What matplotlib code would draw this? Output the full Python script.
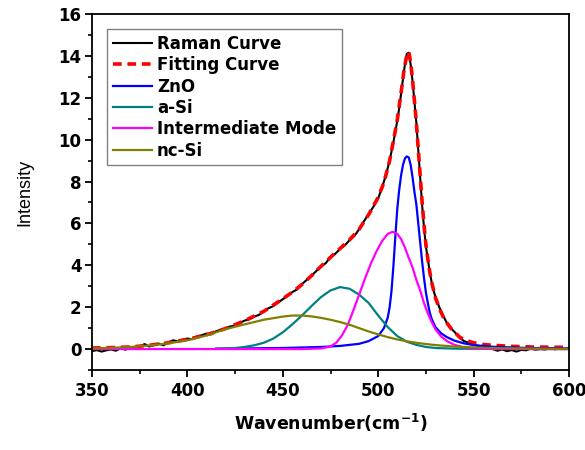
import matplotlib
matplotlib.use("Agg")
import matplotlib.pyplot as plt
from matplotlib.ticker import MultipleLocator

raman_x = [350, 352.5, 355, 357.5, 360, 362.5, 365, 367.5, 370, 372.5,
           375, 377.5, 380, 382.5, 385, 387.5, 390, 392.5, 395, 397.5,
           400, 402.5, 405, 407.5, 410, 412.5, 415, 417.5, 420, 422.5,
           425, 427.5, 430, 432.5, 435, 437.5, 440, 442.5, 445, 447.5,
           450, 452.5, 455, 457.5, 460, 462.5, 465, 467.5, 470, 472.5,
           475, 477.5, 480, 482.5, 485, 487.5, 490, 492.5, 495, 497.5,
           500, 502, 504, 506, 508, 510, 511, 512, 513, 514,
           515, 516, 517, 518, 519, 520, 521, 522, 523, 524,
           525, 526, 527, 528, 529, 530, 532, 534, 536, 538,
           540, 542.5, 545, 547.5, 550, 552.5, 555, 557.5, 560, 562.5,
           565, 567.5, 570, 572.5, 575, 577.5, 580, 582.5, 585, 587.5,
           590, 592.5, 595, 597.5, 600]
raman_y = [-0.10, -0.05, -0.12, -0.06, -0.02, -0.08, 0.04, -0.03, 0.06, 0.02,
           0.10, 0.24, 0.12, 0.20, 0.26, 0.18, 0.32, 0.42, 0.36, 0.45,
           0.50, 0.47, 0.60, 0.66, 0.74, 0.70, 0.85, 0.92, 0.98, 1.08,
           1.12, 1.25, 1.36, 1.42, 1.55, 1.63, 1.80, 1.95, 2.05, 2.22,
           2.38, 2.55, 2.72, 2.85, 3.10, 3.30, 3.50, 3.72, 3.95, 4.10,
           4.40, 4.55, 4.78, 4.95, 5.20, 5.40, 5.72, 6.10, 6.45, 6.80,
           7.20, 7.70, 8.30, 9.00, 9.90, 10.90, 11.50, 12.20, 12.90, 13.60,
           14.10, 14.15, 13.60, 12.80, 11.80, 10.80, 9.50, 8.20, 6.90, 5.80,
           4.90, 4.30, 3.70, 3.20, 2.80, 2.50, 2.00, 1.60, 1.25, 1.00,
           0.82, 0.55, 0.38, 0.30, 0.20, 0.15, 0.12, 0.05, 0.00, -0.08,
           -0.02, -0.10, -0.05, -0.12, -0.04, -0.06, 0.02, -0.03, 0.00, -0.02,
           0.04, -0.01, 0.02, 0.00, 0.03]

# total fit
fit_x = [350, 360, 370, 380, 390, 400, 410, 420, 430, 440,
         450, 455, 460, 465, 470, 475, 480, 485, 490, 495,
         500, 503, 506, 508, 510, 512, 513.5, 515, 516, 517,
         518, 519, 520, 521, 522, 523, 524, 525, 526, 527,
         528, 530, 532, 534, 536, 538, 540, 543, 546, 550,
         555, 560, 570, 580, 590, 600]
fit_y = [0.05, 0.07, 0.10, 0.18, 0.30, 0.46, 0.68, 0.98, 1.35, 1.80,
         2.40, 2.72, 3.08, 3.50, 3.95, 4.38, 4.80, 5.22, 5.72, 6.42,
         7.25, 7.95, 9.00, 9.95, 10.95, 12.25, 13.30, 14.05, 14.20, 13.70,
         12.85, 11.85, 10.80, 9.55, 8.30, 7.05, 5.95, 5.00, 4.30, 3.70,
         3.20, 2.45, 1.95, 1.55, 1.25, 1.00, 0.80, 0.55, 0.42, 0.30,
         0.22, 0.18, 0.13, 0.10, 0.09, 0.08]

# fitted components
zno_x = [415, 430, 450, 470, 480, 490, 495, 500, 503, 505,
         506, 507, 508, 509, 510, 511, 512, 513, 514, 515,
         516, 517, 518, 519, 520, 521, 522, 523, 524, 525,
         526, 527, 528, 530, 533, 536, 540, 545, 550, 560,
         575, 600]
zno_y = [0.02, 0.03, 0.05, 0.10, 0.15, 0.25, 0.38, 0.62, 1.00, 1.50,
         2.00, 2.80, 4.00, 5.40, 6.70, 7.60, 8.30, 8.80, 9.10, 9.20,
         9.15, 8.80, 8.20, 7.50, 6.90, 6.00, 5.10, 4.20, 3.40, 2.70,
         2.20, 1.75, 1.45, 1.05, 0.75, 0.57, 0.40, 0.27, 0.19, 0.11,
         0.06, 0.03]

asi_x = [415, 420, 425, 430, 435, 440, 445, 450, 455, 460,
         465, 470, 475, 480, 485, 490, 495, 500, 505, 510,
         515, 520, 525, 530, 540, 550, 600]
asi_y = [0.01, 0.03, 0.05, 0.10, 0.18, 0.30, 0.50, 0.80, 1.18, 1.60,
         2.05, 2.48, 2.80, 2.96, 2.88, 2.60, 2.20, 1.60, 1.05, 0.62,
         0.35, 0.20, 0.10, 0.05, 0.02, 0.01, 0.00]

im_x = [350, 400, 460, 470, 475, 478, 481, 484, 487, 490,
        493, 496, 499, 502, 505, 507.5, 510, 512, 514, 516,
        518, 520, 522, 524, 526, 528, 530, 533, 536, 540,
        545, 550, 560, 600]
im_y = [0.00, 0.00, 0.00, 0.03, 0.12, 0.30, 0.65, 1.15, 1.85, 2.60,
        3.35, 4.05, 4.65, 5.15, 5.50, 5.60, 5.50, 5.25, 4.85, 4.35,
        3.90, 3.30, 2.80, 2.20, 1.70, 1.30, 0.95, 0.60, 0.38, 0.20,
        0.08, 0.03, 0.00, 0.00]

nc_x = [350, 360, 370, 380, 390, 400, 410, 420, 430, 440,
        450, 455, 460, 465, 470, 475, 480, 485, 490, 495,
        500, 505, 510, 515, 520, 525, 530, 540, 550, 560,
        575, 600]
nc_y = [0.03, 0.06, 0.10, 0.17, 0.27, 0.42, 0.65, 0.95, 1.18, 1.40,
        1.55, 1.60, 1.60, 1.56, 1.49, 1.40, 1.29, 1.16, 1.00, 0.84,
        0.70, 0.57, 0.46, 0.37, 0.30, 0.24, 0.19, 0.12, 0.08, 0.05,
        0.03, 0.01]

x_ticks = [350, 400, 450, 500, 550, 600]
y_ticks = [0, 2, 4, 6, 8, 10, 12, 14, 16]

plt.rcParams["font.family"] = ["DejaVu Sans"]
plt.rcParams["mathtext.fontset"] = "dejavusans"
plt.rcParams["mathtext.default"] = "bf"

fig = plt.figure(figsize=(5.85, 4.5), dpi=100)
ax = fig.add_axes([92 / 585, 1 - 370 / 450, 477 / 585, 356 / 450])

ax.plot(raman_x, raman_y, color="black", lw=1.5, label="Raman Curve")
ax.plot(fit_x, fit_y, color="#ff0000", lw=2.6, dashes=(2.4, 1.6),
        label="Fitting Curve")
ax.plot(zno_x, zno_y, color="#0000ff", lw=1.6, label="ZnO")
ax.plot(asi_x, asi_y, color="#008080", lw=1.6, label="a-Si")
ax.plot(im_x, im_y, color="#ff00ff", lw=1.6, label="Intermediate Mode")
ax.plot(nc_x, nc_y, color="#808000", lw=1.6, label="nc-Si")

ax.set_xlim(350, 600)
ax.set_ylim(-1, 16)
ax.set_xticks(x_ticks)
ax.set_yticks(y_ticks)
ax.xaxis.set_minor_locator(MultipleLocator(25))
ax.yaxis.set_minor_locator(MultipleLocator(1))
ax.tick_params(which="major", direction="out", length=5, width=1.3,
               top=False, right=False, labelsize=12, pad=2.5)
ax.tick_params(axis="x", which="major", pad=4)
ax.tick_params(which="minor", direction="out", length=3, width=1.2,
               top=False, right=False)
for lab in ax.get_xticklabels() + ax.get_yticklabels():
    lab.set_fontweight("bold")
for sp in ax.spines.values():
    sp.set_linewidth(1.3)

ax.set_xlabel("Wavenumber(cm$^{-1}$)", fontsize=12.5, fontweight="bold",
              labelpad=8)
ax.set_ylabel("Intensity", fontsize=13, labelpad=18,
              family=["Liberation Sans", "DejaVu Sans"])

leg = ax.legend(loc="upper left", bbox_to_anchor=(107 / 585, 1 - 29 / 450),
                bbox_transform=fig.transFigure, borderaxespad=0,
                prop={"weight": "bold", "size": 12}, fancybox=False,
                framealpha=1, edgecolor="#808080", handlelength=2.35,
                handletextpad=0.3, labelspacing=0.2, borderpad=0.35)
leg.get_frame().set_linewidth(1.0)

fig.savefig("out.png", dpi=100)
